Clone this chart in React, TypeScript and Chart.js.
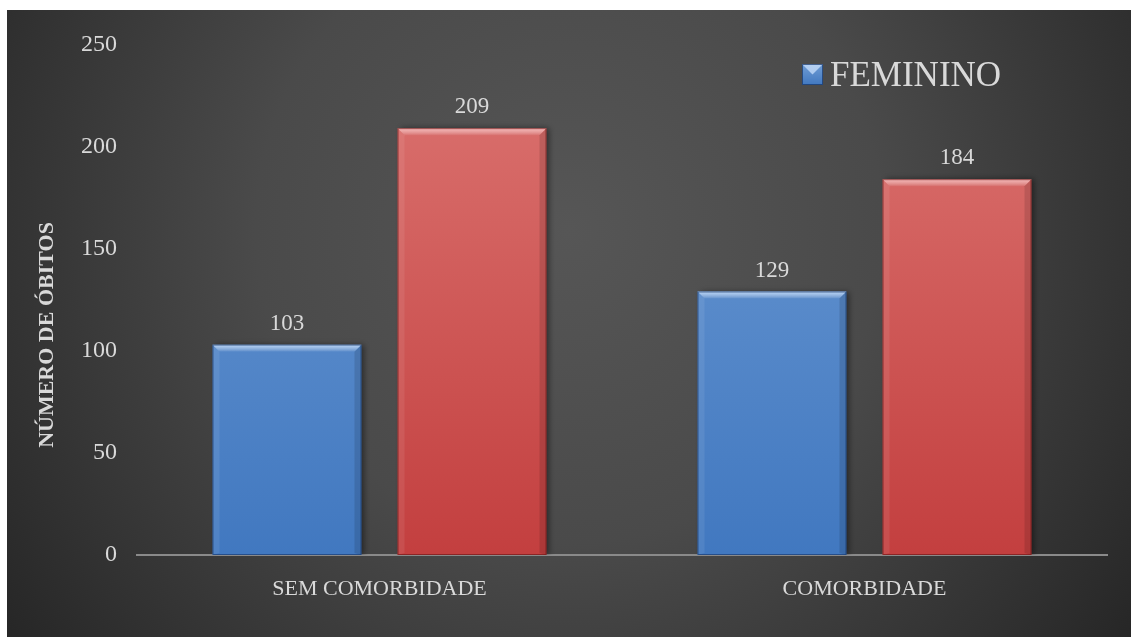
import React, { useEffect, useRef } from "react";
import { Chart, registerables } from "chart.js";

Chart.register(...registerables);

const categories = ["SEM COMORBIDADE", "COMORBIDADE"];
const femininoValues = [103, 129];
const masculinoValues = [209, 184];
const seriesLabels = ["FEMININO", "MASCULINO"];
const yTicks = [0, 50, 100, 150, 200, 250];
const yTitle = "NÚMERO DE ÓBITOS";

const FONT = "'Liberation Serif', 'DejaVu Serif', serif";
const TEXT = "#d9d9d9";

const palettes = [
  { top: "#6f9cd4", bottom: "#4178c0", light: "rgba(200,225,255,0.85)", dark: "rgba(20,50,100,0.6)" },
  { top: "#dc7572", bottom: "#c33f3f", light: "rgba(255,200,200,0.8)", dark: "rgba(100,20,20,0.6)" },
];

function barGradient(ctx: any, idx: number) {
  const chart = ctx.chart;
  const area = chart.chartArea;
  if (!area) return palettes[idx].bottom;
  const el = ctx.element;
  const top = el && isFinite(el.y) ? el.y : area.top;
  const bottom = el && isFinite(el.base) ? el.base : area.bottom;
  const g = chart.ctx.createLinearGradient(0, top, 0, bottom);
  g.addColorStop(0, palettes[idx].top);
  g.addColorStop(1, palettes[idx].bottom);
  return g;
}

const bgPlugin = {
  id: "bgPlugin",
  beforeDraw(chart: any) {
    const { ctx, width, height } = chart;
    ctx.save();
    const g = ctx.createRadialGradient(width * 0.5, height * 0.35, 0, width * 0.5, height * 0.35, width * 0.62);
    g.addColorStop(0, "#565656");
    g.addColorStop(0.45, "#4a4a4a");
    g.addColorStop(1, "#262626");
    ctx.fillStyle = g;
    ctx.fillRect(0, 0, width, height);
    ctx.restore();
  },
  beforeDatasetsDraw(chart: any) {
    const ctx = chart.ctx;
    ctx.save();
    ctx.shadowColor = "rgba(0,0,0,0.45)";
    ctx.shadowBlur = 6;
    ctx.shadowOffsetX = 3;
    ctx.shadowOffsetY = 0;
  },
  afterDatasetsDraw(chart: any) {
    const ctx = chart.ctx;
    ctx.restore();
    chart.data.datasets.forEach((ds: any, di: number) => {
      const meta = chart.getDatasetMeta(di);
      meta.data.forEach((bar: any, i: number) => {
        const { x, y, width, base } = bar.getProps(["x", "y", "width", "base"], true);
        const l = x - width / 2;
        const r = x + width / 2;
        const b = 7;
        ctx.save();
        const tg = ctx.createLinearGradient(0, y, 0, y + b);
        tg.addColorStop(0, palettes[di].light);
        tg.addColorStop(1, "rgba(255,255,255,0.05)");
        ctx.fillStyle = tg;
        ctx.beginPath();
        ctx.moveTo(l, y);
        ctx.lineTo(r, y);
        ctx.lineTo(r - b, y + b);
        ctx.lineTo(l + b, y + b);
        ctx.closePath();
        ctx.fill();
        ctx.fillStyle = "rgba(255,255,255,0.08)";
        ctx.beginPath();
        ctx.moveTo(l, y);
        ctx.lineTo(l + b, y + b);
        ctx.lineTo(l + b, base - 2);
        ctx.lineTo(l, base);
        ctx.closePath();
        ctx.fill();
        ctx.fillStyle = "rgba(0,0,0,0.12)";
        ctx.beginPath();
        ctx.moveTo(r, y);
        ctx.lineTo(r - b, y + b);
        ctx.lineTo(r - b, base - 2);
        ctx.lineTo(r, base);
        ctx.closePath();
        ctx.fill();
        ctx.strokeStyle = palettes[di].dark;
        ctx.lineWidth = 1;
        ctx.strokeRect(l + 0.5, y + 0.5, width - 1, base - y - 1);
        ctx.restore();

        ctx.save();
        ctx.fillStyle = TEXT;
        ctx.font = `23px ${FONT}`;
        ctx.textAlign = "center";
        ctx.textBaseline = "alphabetic";
        ctx.fillText(String(ds.data[i]), x, y - 15);
        ctx.restore();
      });
    });
  },
  afterDraw(chart: any) {
    const ctx = chart.ctx;
    const area = chart.chartArea;
    // y axis title
    ctx.save();
    ctx.translate(40, 325);
    ctx.rotate(-Math.PI / 2);
    ctx.fillStyle = TEXT;
    ctx.font = `bold 22px ${FONT}`;
    ctx.textAlign = "center";
    ctx.textBaseline = "middle";
    ctx.fillText(yTitle, 0, 0);
    ctx.restore();

    // legend (first series only, as in the reference)
    const sx = area.right - 305;
    const sy = 54;
    const s = 21;
    ctx.save();
    const g = ctx.createLinearGradient(0, sy, 0, sy + s);
    g.addColorStop(0, palettes[0].top);
    g.addColorStop(1, palettes[0].bottom);
    ctx.fillStyle = g;
    ctx.fillRect(sx, sy, s, s);
    ctx.fillStyle = "rgba(210,230,255,0.7)";
    ctx.beginPath();
    ctx.moveTo(sx, sy);
    ctx.lineTo(sx + s, sy);
    ctx.lineTo(sx + s / 2, sy + s / 2);
    ctx.closePath();
    ctx.fill();
    ctx.strokeStyle = "rgba(20,50,100,0.7)";
    ctx.strokeRect(sx + 0.5, sy + 0.5, s - 1, s - 1);
    ctx.fillStyle = TEXT;
    ctx.font = `35px ${FONT}`;
    ctx.textAlign = "left";
    ctx.textBaseline = "alphabetic";
    ctx.fillText(chart.data.datasets[0].label, sx + 28, sy + s + 1);
    ctx.restore();
  },
};

export default function App() {
  const ref = useRef<HTMLCanvasElement>(null);
  useEffect(() => {
    if (!ref.current) return;
    const chart = new Chart(ref.current, {
      type: "bar",
      data: {
        labels: categories,
        datasets: [
          {
            label: seriesLabels[0],
            data: femininoValues,
            backgroundColor: (c: any) => barGradient(c, 0),
            borderWidth: 0,
            categoryPercentage: 0.763,
            barPercentage: 0.805,
          },
          {
            label: seriesLabels[1],
            data: masculinoValues,
            backgroundColor: (c: any) => barGradient(c, 1),
            borderWidth: 0,
            categoryPercentage: 0.763,
            barPercentage: 0.805,
          },
        ],
      },
      options: {
        animation: false,
        responsive: false,
        maintainAspectRatio: false,
        layout: { padding: { top: 33, right: 24, left: 0, bottom: 0 } },
        plugins: {
          legend: { display: false },
          tooltip: { enabled: false },
        },
        scales: {
          x: {
            grid: { display: false, drawTicks: false },
            border: { display: true, color: "#8a8a8a", width: 2 },
            ticks: { color: TEXT, font: { family: FONT, size: 22 }, padding: 21 },
            afterFit: (s: any) => {
              s.height = 627 - 545;
            },
          },
          y: {
            min: 0,
            max: 250,
            afterBuildTicks: (s: any) => {
              s.ticks = yTicks.map((v) => ({ value: v }));
            },
            grid: { display: false, drawTicks: false },
            border: { display: false },
            ticks: { color: TEXT, font: { family: FONT, size: 24 }, padding: 20 },
            afterFit: (s: any) => {
              s.width = 130;
            },
          },
        },
      },
      plugins: [bgPlugin],
    } as any);
    return () => chart.destroy();
  }, []);
  return (
    <div style={{ position: "fixed", left: 7, top: 10, width: 1124, height: 627 }}>
      <canvas ref={ref} width={1124} height={627} style={{ display: "block" }} />
    </div>
  );
}
